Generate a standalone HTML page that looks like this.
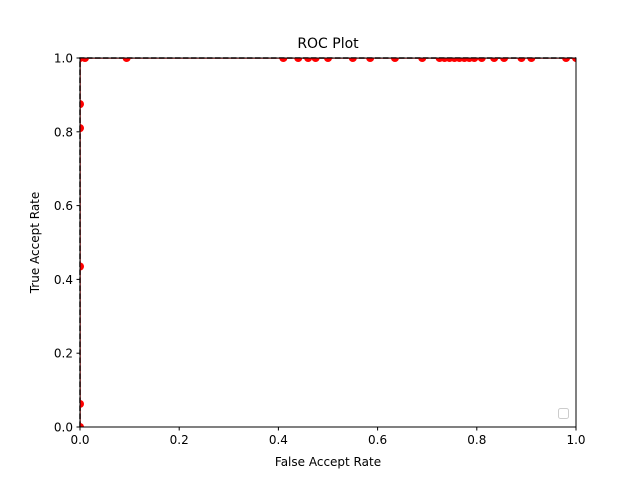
<!DOCTYPE html>
<html><head><meta charset="utf-8"><style>
body{margin:0;background:#fff;}
svg{display:block;font-family:"DejaVu Sans","Liberation Sans",sans-serif;}
</style></head><body>
<svg id="chart" width="640" height="480" viewBox="0 0 640 480">
<defs><clipPath id="pclip" clipPathUnits="userSpaceOnUse"><rect x="80.5" y="58.5" width="495" height="368"/></clipPath></defs>
<rect x="0" y="0" width="640" height="480" fill="#fff"/>
<text x="328" y="48" font-size="14" text-anchor="middle">ROC Plot</text>
<g id="marks"></g>
<g id="axes"></g>
<text x="328" y="466" font-size="12" text-anchor="middle">False Accept Rate</text>
<text transform="translate(39,242.5) rotate(-90)" font-size="12" text-anchor="middle">True Accept Rate</text>
<rect x="558.5" y="408.5" width="10" height="10" rx="2" fill="#fff" stroke="#ccc"/>
</svg>
<script>
const fpr = [0,0,0,0,0,0,0.01,0.094,0.41,0.44,0.46,0.475,0.5,0.55,0.585,0.635,0.69,0.725,0.735,0.745,0.755,0.765,0.775,0.785,0.795,0.81,0.835,0.855,0.89,0.91,0.98,1.0];
const tpr = [0,0.0625,0.435,0.81,0.875,1,1,1,1,1,1,1,1,1,1,1,1,1,1,1,1,1,1,1,1,1,1,1,1,1,1,1];
const xTicks = [0,0.2,0.4,0.6,0.8,1.0];
const yTicks = [0,0.2,0.4,0.6,0.8,1.0];
const xTickLabels = ["0.0","0.2","0.4","0.6","0.8","1.0"];
const yTickLabels = ["0.0","0.2","0.4","0.6","0.8","1.0"];
const NS="http://www.w3.org/2000/svg";
const X0=80,X1=576,Y0=427,Y1=58;
const sx=v=>X0+v*(X1-X0), sy=v=>Y0-v*(Y0-Y1);
const marks=document.getElementById('marks'), axes=document.getElementById('axes');
function mk(tag,attrs,parent){const e=document.createElementNS(NS,tag);for(const k in attrs)e.setAttribute(k,attrs[k]);parent.appendChild(e);return e;}
const pts=fpr.map((v,i)=>sx(v)+','+sy(tpr[i])).join(' ');
const line=mk('polyline',{points:pts,fill:'none',stroke:'#f00','stroke-width':1.5,'clip-path':'url(#pclip)'},marks);


const dpts=[sx(0)+','+sy(0),sx(0)+','+sy(1),sx(1)+','+sy(1)].join(' ');
const dash=mk('polyline',{points:dpts,fill:'none',stroke:'#000','stroke-width':1.5,'stroke-dasharray':'5.5,2.5'},marks);


fpr.forEach((v,i)=>{
  const c=mk('circle',{cx:sx(v),cy:sy(tpr[i]),r:4,fill:'#ff0000','clip-path':'url(#pclip)'},marks);
  
  
});
const frame=mk('rect',{x:X0,y:Y1,width:X1-X0,height:Y0-Y1,fill:'none',stroke:'#000','stroke-width':1},axes);


xTicks.forEach((t,i)=>{
  const x=sx(t);
  mk('line',{x1:x,y1:Y0,x2:x,y2:Y0+3.5,stroke:'#000'},axes);
  const tx=mk('text',{x:x,y:Y0+17,'font-size':12,'text-anchor':'middle'},axes);
  tx.textContent=xTickLabels[i];
  
  
});
yTicks.forEach((t,i)=>{
  const y=sy(t);
  mk('line',{x1:X0-3.5,y1:y,x2:X0,y2:y,stroke:'#000'},axes);
  const tx=mk('text',{x:X0-7,y:y+4.5,'font-size':12,'text-anchor':'end'},axes);
  tx.textContent=yTickLabels[i];
  
  
});
</script>
</body></html>
